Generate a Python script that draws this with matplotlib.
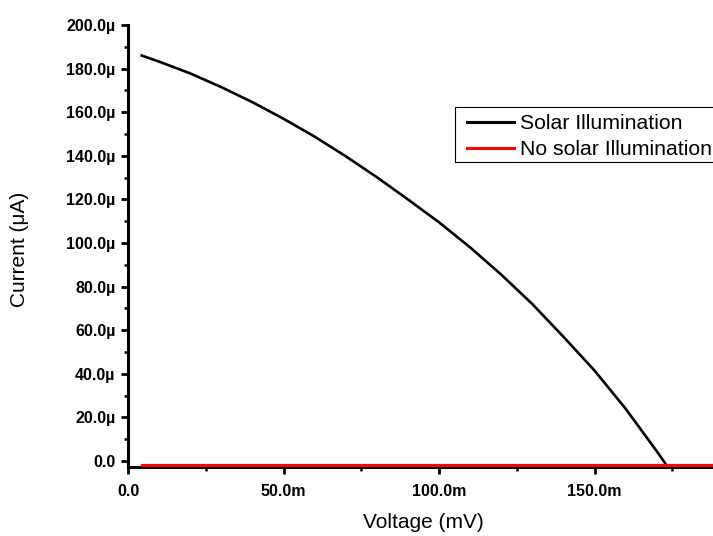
import matplotlib
matplotlib.use("Agg")
import matplotlib.pyplot as plt
from matplotlib.patches import Rectangle
from matplotlib.ticker import FixedLocator, MultipleLocator

plt.rcParams['font.family'] = ['Liberation Sans', 'DejaVu Sans']

# I-V characteristic (voltage in V, current in A)
voltage_lit = [0.0044, 0.010, 0.020, 0.030, 0.040, 0.050, 0.060, 0.070, 0.080, 0.090,
               0.100, 0.110, 0.120, 0.130, 0.140, 0.150, 0.160, 0.170, 0.1727]
current_lit = [186.0e-6, 183.2e-6, 177.8e-6, 171.5e-6, 164.6e-6, 157.0e-6, 148.8e-6,
               139.8e-6, 130.2e-6, 120.0e-6, 109.5e-6, 98.0e-6, 85.5e-6, 72.0e-6,
               57.0e-6, 41.5e-6, 24.0e-6, 4.5e-6, -1.0e-6]

voltage_dark = [0.0044, 0.1900]
current_dark = [-1.8e-6, -1.8e-6]

x_ticks = [0.0, 0.05, 0.10, 0.15]
x_tick_labels = ["0.0", "50.0m", "100.0m", "150.0m"]
y_ticks = [0e-6, 20e-6, 40e-6, 60e-6, 80e-6, 100e-6, 120e-6, 140e-6, 160e-6, 180e-6, 200e-6]
y_tick_labels = ["0.0", "20.0µ", "40.0µ", "60.0µ", "80.0µ", "100.0µ",
                 "120.0µ", "140.0µ", "160.0µ", "180.0µ", "200.0µ"]

W, H = 713, 536
L, R, T, B = 128, 713, 25, 467
fig = plt.figure(figsize=(W / 100, H / 100), dpi=100)
ax = fig.add_axes([L / W, 1 - B / H, (R - L) / W, (B - T) / H])

ax.plot(voltage_lit, current_lit, color="black", lw=1.9, label="Solar Illumination", zorder=3)
ax.plot(voltage_dark, current_dark, color="#ff0000", lw=2.3, label="No solar Illumination",
        zorder=4)

ax.set_xlim(0, 0.1881)
ax.set_ylim(-2.75e-6, 200e-6)

ax.xaxis.set_major_locator(FixedLocator(x_ticks))
ax.set_xticklabels(x_tick_labels)
ax.xaxis.set_minor_locator(MultipleLocator(0.025))
ax.yaxis.set_major_locator(FixedLocator(y_ticks))
ax.set_yticklabels(y_tick_labels)
ax.yaxis.set_minor_locator(MultipleLocator(10e-6))

for lab in ax.get_xticklabels() + ax.get_yticklabels():
    lab.set_fontweight("bold")
    lab.set_fontsize(11.5)

ax.tick_params(which="major", direction="out", length=5, width=2.0, pad=7)
ax.tick_params(axis="y", which="major", pad=4)
ax.tick_params(which="minor", direction="out", length=3, width=1.8)

for side in ("top", "right"):
    ax.spines[side].set_visible(False)
for side in ("left", "bottom"):
    ax.spines[side].set_linewidth(2.2)

ax.set_xlabel("Voltage (mV)", fontsize=15, va="center")
ax.xaxis.set_label_coords((423 - L) / (R - L), (B - 523) / (B - T))
ax.set_ylabel("Current (μA)", fontsize=15, va="center", ha="center")
ax.yaxis.set_label_coords((20 - L) / (R - L), (B - 249) / (B - T))

# legend: frameless entries inside a thin rectangular box
leg = ax.legend(loc="upper left", bbox_to_anchor=(461 / W, 1 - 108 / H),
                bbox_transform=fig.transFigure, fontsize=15.3, frameon=False,
                borderaxespad=0, borderpad=0.3, handlelength=2.2,
                handletextpad=0.28, labelspacing=0.31)
for h in leg.legend_handles:
    h.set_linewidth(2.2)
fig.patches.append(Rectangle((455 / W, 1 - 162 / H), (725 - 455) / W, (162 - 107) / H,
                             transform=fig.transFigure, fill=False, edgecolor="black",
                             linewidth=0.8, zorder=5))

fig.savefig("out.png", dpi=100)
